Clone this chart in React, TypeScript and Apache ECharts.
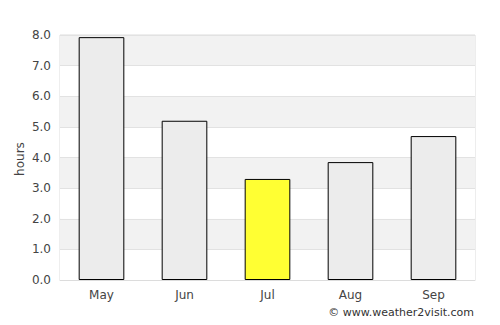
import React, { useEffect, useRef } from "react";
import * as echarts from "echarts";

const months = ["May", "Jun", "Jul", "Aug", "Sep"];
const hours = [7.93, 5.2, 3.3, 3.85, 4.7];
const highlightIndex = 2;
const yAxisTitle = "hours";

export default function App() {
  const ref = useRef<HTMLDivElement>(null);
  useEffect(() => {
    const chart = echarts.init(ref.current!, null, { renderer: "svg" });
    chart.setOption({
      animation: false,
      textStyle: { fontFamily: "DejaVu Sans" },
      grid: { left: 60, right: 25, top: 35, bottom: 45, show: true, borderColor: "#dcdcdc", borderWidth: 1 },
      xAxis: {
        type: "category",
        data: months,
        axisLine: { show: true, lineStyle: { color: "#dcdcdc" } },
        axisTick: { show: false },
        axisLabel: { color: "#444", fontSize: 12, margin: 9 },
      },
      yAxis: {
        type: "value",
        min: 0,
        max: 8,
        interval: 1,
        axisLine: { show: false },
        axisTick: { show: false },
        axisLabel: { color: "#444", fontSize: 12, margin: 9, formatter: (v: number) => v.toFixed(1) },
        splitLine: { show: true, lineStyle: { color: "#e2e2e2" } },
        splitArea: { show: true, areaStyle: { color: ["#ffffff", "#f2f2f2"] } },
      },
      series: [
        {
          type: "bar",
          barWidth: "55%",
          data: hours.map((v, i) => ({
            value: v,
            itemStyle: { color: i === highlightIndex ? "#ffff33" : "#ececec", borderColor: "#000", borderWidth: 1 },
          })),
        },
      ],
      graphic: [
        {
          type: "text",
          x: 20,
          y: 159,
          rotation: Math.PI / 2,
          style: {
            text: yAxisTitle,
            fill: "#444",
            font: "12px 'DejaVu Sans'",
            textAlign: "center",
            textVerticalAlign: "middle",
          },
        },
        {
          type: "text",
          right: 26,
          top: 307,
          style: { text: "© www.weather2visit.com", fill: "#333", font: "11px 'DejaVu Sans'" },
        },
      ],
    });
    return () => chart.dispose();
  }, []);
  return <div ref={ref} style={{ width: 500, height: 325, position: "absolute", left: 0, top: 0 }} />;
}
